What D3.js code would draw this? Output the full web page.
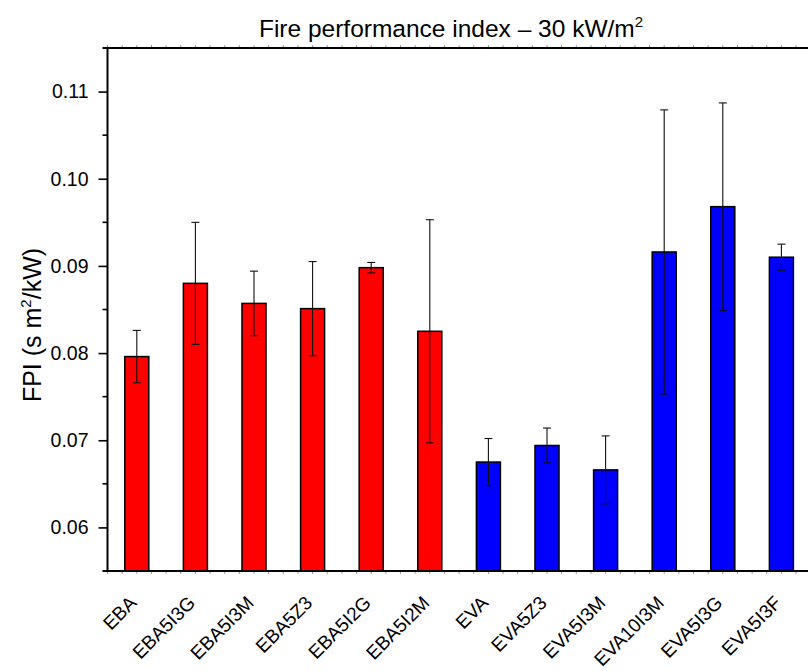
<!DOCTYPE html>
<html>
<head>
<meta charset="utf-8">
<script src="https://cdn.jsdelivr.net/npm/d3@7"></script>
<style>
  body { margin: 0; background: #fff; }
  svg { font-family: Arial, "Liberation Sans", sans-serif; }
</style>
</head>
<body>
<svg id="drawing_region"></svg>
<script>
// samples and measured FPI (mean, +/- deviation)
const samples = ['EBA', 'EBA5I3G', 'EBA5I3M', 'EBA5Z3', 'EBA5I2G', 'EBA5I2M',
                 'EVA', 'EVA5Z3', 'EVA5I3M', 'EVA10I3M', 'EVA5I3G', 'EVA5I3F'];
const fpi = [0.0796, 0.0880, 0.0857, 0.0851, 0.0898, 0.0825,
             0.0675, 0.0694, 0.0666, 0.0916, 0.0968, 0.0910];
const fpiErr = [0.0030, 0.0070, 0.0037, 0.0054, 0.0006, 0.0128,
                0.0027, 0.0020, 0.0039, 0.0163, 0.0119, 0.0015];
const matrix = ['EBA', 'EBA', 'EBA', 'EBA', 'EBA', 'EBA',
                'EVA', 'EVA', 'EVA', 'EVA', 'EVA', 'EVA'];
const yTicks = [0.06, 0.07, 0.08, 0.09, 0.10, 0.11];

const data = samples.map((s, i) => ({name: s, v: fpi[i], e: fpiErr[i], m: matrix[i]}));

const width = 808, height = 671;
const margin = {top: 48, left: 107.5, bottom: 100};
const plotRight = 810.7;

const svg = d3.select('#drawing_region')
    .attr('width', width)
    .attr('height', height);

const xscale = d3.scaleBand()
    .domain(samples)
    .range([margin.left, plotRight])
    .paddingInner(0.59)
    .paddingOuter(0.295);

const yscale = d3.scaleLinear()
    .domain([0.055, 0.115])
    .range([height - margin.bottom, margin.top]);

const color = d3.scaleOrdinal()
    .domain(['EBA', 'EVA'])
    .range(['#ff0000', '#0000ff']);

// bars
svg.append('g')
    .selectAll('rect')
    .data(data)
    .join('rect')
    .attr('x', d => xscale(d.name))
    .attr('y', d => yscale(d.v))
    .attr('width', xscale.bandwidth())
    .attr('height', d => yscale(0.055) - yscale(d.v))
    .attr('fill', d => color(d.m))
    .attr('stroke', '#000')
    .attr('stroke-width', 1.5);

// error bars
const cap = 4;
const err = svg.append('g')
    .attr('stroke', '#111')
    .attr('stroke-width', 1.1);
data.forEach(d => {
    const cx = xscale(d.name) + xscale.bandwidth() / 2;
    const y1 = yscale(d.v + d.e), y2 = yscale(d.v - d.e);
    err.append('line').attr('x1', cx).attr('x2', cx).attr('y1', y1).attr('y2', y2);
    err.append('line').attr('x1', cx - cap).attr('x2', cx + cap).attr('y1', y1).attr('y2', y1);
    err.append('line').attr('x1', cx - cap).attr('x2', cx + cap).attr('y1', y2).attr('y2', y2);
});

// y axis with major and minor ticks
const yaxis = d3.axisLeft(yscale)
    .tickValues(yTicks)
    .tickFormat(d3.format('.2f'))
    .tickSize(9)
    .tickPadding(10);
const yaxis_group = svg.append('g')
    .attr('transform', `translate(${margin.left}, 0)`)
    .call(yaxis);
yaxis_group.select('.domain').remove();
yaxis_group.selectAll('line').attr('stroke-width', 1.6);
yaxis_group.selectAll('text')
    .attr('font-size', 19.5)
    .attr('fill', '#000')
    .attr('font-family', 'Arial, "Liberation Sans", sans-serif');

const minor = yTicks.map(t => t + 0.005).filter(t => t < 0.115);
svg.append('g')
    .selectAll('line')
    .data(minor)
    .join('line')
    .attr('x1', margin.left - 5)
    .attr('x2', margin.left)
    .attr('y1', d => yscale(d))
    .attr('y2', d => yscale(d))
    .attr('stroke', '#000')
    .attr('stroke-width', 1.6);

// little quarter-step ticks on top and bottom frame lines
const qticks = d3.range(0, samples.length * 4 + 1).map(k => margin.left + k * xscale.step() / 4);
svg.append('g')
    .selectAll('line')
    .data(qticks)
    .join('line')
    .attr('x1', d => d).attr('x2', d => d)
    .attr('y1', yscale(0.055)).attr('y2', yscale(0.055) + 3)
    .attr('stroke', '#999');
svg.append('g')
    .selectAll('line')
    .data(qticks)
    .join('line')
    .attr('x1', d => d).attr('x2', d => d)
    .attr('y1', yscale(0.115)).attr('y2', yscale(0.115) - 3)
    .attr('stroke', '#999');

// frame
const frame = svg.append('g').attr('stroke', '#000').attr('stroke-width', 2);
frame.append('line')
    .attr('x1', margin.left).attr('x2', margin.left)
    .attr('y1', yscale(0.115)).attr('y2', yscale(0.055));
frame.append('line')
    .attr('x1', margin.left - 5).attr('x2', width)
    .attr('y1', yscale(0.055)).attr('y2', yscale(0.055));
frame.append('line')
    .attr('x1', margin.left - 5).attr('x2', width)
    .attr('y1', yscale(0.115)).attr('y2', yscale(0.115));

// x labels, rotated
svg.append('g')
    .selectAll('text')
    .data(samples)
    .join('text')
    .attr('transform', d => `translate(${xscale(d) + xscale.bandwidth() / 2 + 1}, 604) rotate(-45)`)
    .attr('text-anchor', 'end')
    .attr('font-size', 19)
    .text(d => d);

// title
const title = svg.append('text')
    .attr('x', 451)
    .attr('y', 37)
    .attr('text-anchor', 'middle')
    .attr('font-size', 24.5);
title.append('tspan').text('Fire performance index \u2013 30 kW/m');
title.append('tspan').attr('font-size', 15).attr('dy', -10).text('2');

// y label
const ylab = svg.append('text')
    .attr('transform', 'translate(41, 325) rotate(-90)')
    .attr('text-anchor', 'middle')
    .attr('font-size', 25);
ylab.append('tspan').text('FPI (s m');
ylab.append('tspan').attr('font-size', 15).attr('dy', -10).text('2');
ylab.append('tspan').attr('dy', 10).text('/kW)');
</script>
</body>
</html>
